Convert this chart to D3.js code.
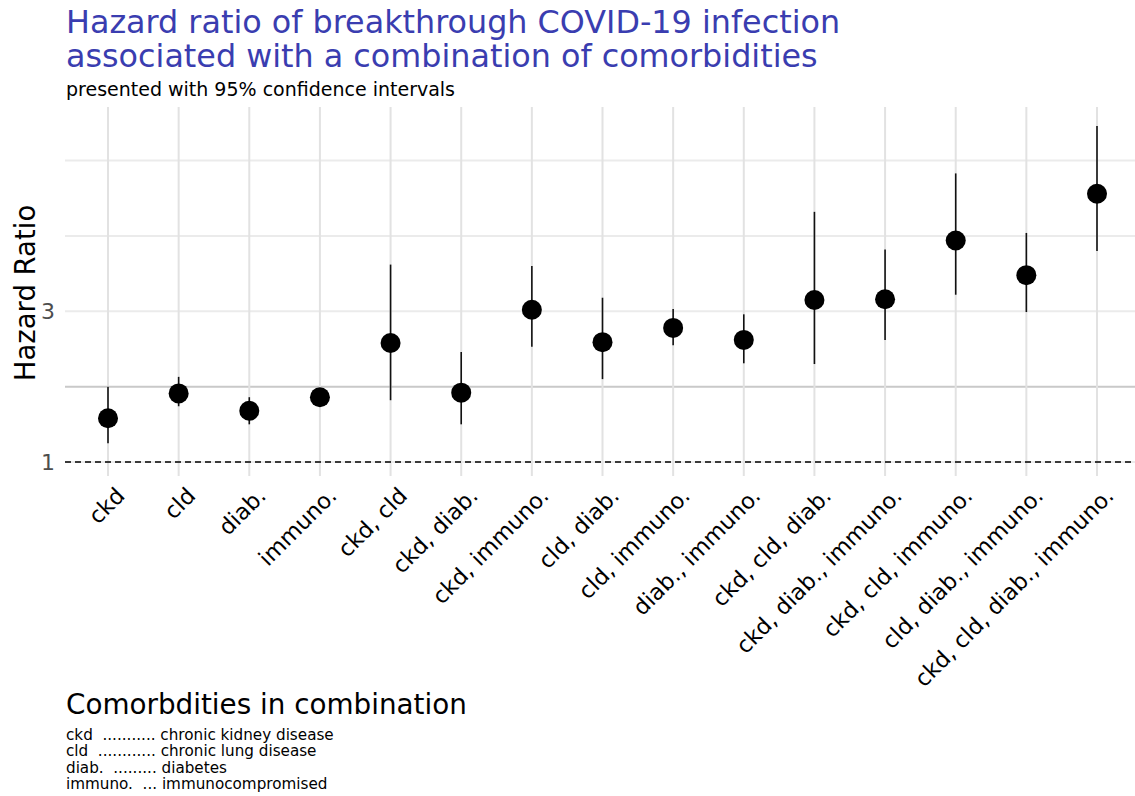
<!DOCTYPE html>
<html>
<head>
<meta charset="utf-8">
<script src="https://cdn.jsdelivr.net/npm/d3@7"></script>
<style>
  body { margin: 0; background: #fff; }
  text { font-family: "DejaVu Sans", sans-serif; white-space: pre; }
</style>
</head>
<body>
<div id="my_dataviz"></div>
<script>
// data
var combos = ["ckd", "cld", "diab.", "immuno.", "ckd, cld", "ckd, diab.", "ckd, immuno.",
  "cld, diab.", "cld, immuno.", "diab., immuno.", "ckd, cld, diab.", "ckd, diab., immuno.",
  "ckd, cld, immuno.", "cld, diab., immuno.", "ckd, cld, diab., immuno."];
var hr    = [1.58, 1.91, 1.68, 1.86, 2.58, 1.92, 3.02, 2.59, 2.78, 2.62, 3.15, 3.16, 3.94, 3.48, 4.56];
var lower = [1.25, 1.74, 1.50, 1.80, 1.82, 1.50, 2.53, 2.10, 2.55, 2.31, 2.30, 2.62, 3.22, 2.99, 3.80];
var upper = [2.00, 2.13, 1.86, 1.92, 3.62, 2.46, 3.60, 3.18, 3.03, 2.96, 4.32, 3.82, 4.83, 4.04, 5.46];
var yTicks = [1, 3];
var yGrid = [1, 2, 3, 4, 5];
var glossary = ["ckd  ........... chronic kidney disease", "cld  ............ chronic lung disease",
  "diab.  ......... diabetes", "immuno.  ... immunocompromised"];

var rows = combos.map(function (c, i) {
  return { name: c, hr: hr[i], lo: lower[i], hi: upper[i] };
});

var W = 1135, H = 796;
var svg = d3.select("#my_dataviz").append("svg")
  .attr("width", W).attr("height", H);

var x = d3.scalePoint().domain(combos).range([108, 1097]);
var y = d3.scaleLinear().domain([1, 3]).range([462, 311.3]);
var panelLeft = 65, panelRight = 1135, panelTop = 107, panelBottom = 476;

// titles
svg.append("text").attr("x", 66).attr("y", 33)
  .style("font-size", "31.8px").style("fill", "#3a3db0")
  .text("Hazard ratio of breakthrough COVID-19 infection");
svg.append("text").attr("x", 66).attr("y", 67)
  .style("font-size", "31.8px").style("fill", "#3a3db0")
  .text("associated with a combination of comorbidities");
svg.append("text").attr("x", 66).attr("y", 96)
  .style("font-size", "19px").style("fill", "#000")
  .text("presented with 95% confidence intervals");

// grid
svg.append("g").selectAll("line").data(yGrid).enter().append("line")
  .attr("x1", panelLeft).attr("x2", panelRight)
  .attr("y1", d => y(d)).attr("y2", d => y(d))
  .style("stroke", d => d == 2 ? "#c9c9c9" : "#ebebeb")
  .style("stroke-width", 2);
svg.append("g").selectAll("line").data(combos).enter().append("line")
  .attr("x1", d => x(d)).attr("x2", d => x(d))
  .attr("y1", panelTop).attr("y2", panelBottom)
  .style("stroke", "#e2e2e2")
  .style("stroke-width", 2);

// reference line at 1
svg.append("line")
  .attr("x1", panelLeft).attr("x2", panelRight)
  .attr("y1", y(1)).attr("y2", y(1))
  .style("stroke", "#000").style("stroke-width", 1.3)
  .style("stroke-dasharray", "6,4");

// y axis labels
svg.append("g").selectAll("text").data(yTicks).enter().append("text")
  .attr("x", 55).attr("y", d => y(d)).attr("dy", "0.36em")
  .style("text-anchor", "end").style("font-size", "22px").style("fill", "#4d4d4d")
  .text(d => d);
svg.append("text")
  .attr("transform", "translate(35," + 293 + ") rotate(-90)")
  .style("text-anchor", "middle").style("font-size", "27.5px")
  .text("Hazard Ratio");

// x labels
svg.append("g").selectAll("text").data(combos).enter().append("text")
  .attr("transform", d => "translate(" + (x(d) + 7) + ",486) rotate(-45)")
  .attr("dy", "0.7em")
  .style("text-anchor", "end").style("font-size", "22.5px").style("fill", "#000")
  .text(d => d);

// error bars
svg.append("g").selectAll("line").data(rows).enter().append("line")
  .attr("x1", d => x(d.name)).attr("x2", d => x(d.name))
  .attr("y1", d => y(d.lo)).attr("y2", d => y(d.hi))
  .style("stroke", "#111").style("stroke-width", 1.6);

// points
svg.append("g").selectAll("circle").data(rows).enter().append("circle")
  .attr("cx", d => x(d.name)).attr("cy", d => y(d.hr))
  .attr("r", 10).style("fill", "#000");

// glossary
svg.append("text").attr("x", 66).attr("y", 714)
  .style("font-size", "27.8px").text("Comorbdities in combination");
svg.append("g").selectAll("text").data(glossary).enter().append("text")
  .attr("x", 66).attr("y", (d, i) => 740 + i * 16.4)
  .style("font-size", "15.2px").text(d => d);
</script>
</body>
</html>
